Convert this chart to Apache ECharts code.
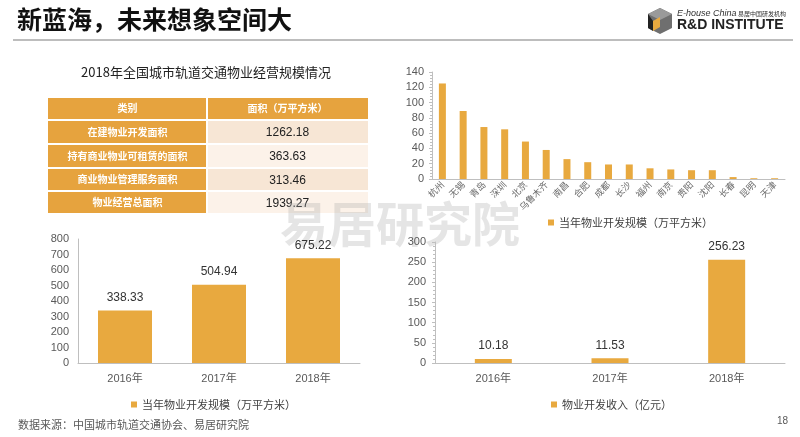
<!DOCTYPE html>
<html>
<head>
<meta charset="utf-8">
<script src="https://cdn.jsdelivr.net/npm/echarts@6/dist/echarts.min.js"></script>
<style>
  html, body { margin: 0; padding: 0; background: #fff; }
  #main { width: 800px; height: 437px; }
</style>
</head>
<body>
<div id="main"></div>
<script>
// city ranking (top right)
const cities = ["杭州", "无锡", "青岛", "深圳", "北京", "乌鲁木齐", "南昌", "合肥", "成都", "长沙", "福州", "南京", "贵阳", "沈阳", "长春", "昆明", "天津"];
const cityScale = [125, 89, 68, 65, 49, 38, 26, 22, 19, 19, 14, 12.5, 11.5, 11.5, 2.5, 1, 1];

// yearly charts (bottom)
const years = ["2016年", "2017年", "2018年"];
const devScale = [338.33, 504.94, 675.22];
const devIncome = [10.18, 11.53, 256.23];

// table (top left)
const tableHead = ["类别", "面积（万平方米）"];
const tableCats = ["在建物业开发面积", "持有商业物业可租赁的面积", "商业物业管理服务面积", "物业经营总面积"];
const tableVals = ["1262.18", "363.63", "313.46", "1939.27"];

const scaleName = "当年物业开发规模（万平方米）";
const incomeName = "物业开发收入（亿元）";

const FONT = "'Liberation Sans','Noto Sans CJK SC',sans-serif";
const CJK = "'Noto Sans CJK SC','Liberation Sans',sans-serif";
const BAR = "#E8A93F";
const CELL = "#E6A33E";
const axisTxt = { color: "#595959", fontFamily: FONT };

// table as graphic elements
const tbl = [];
const tx0 = 48, tx1 = 207, tx2 = 368;
const rowTop = [98, 121, 145, 169, 192];
const rowBot = [119, 143, 167, 190, 213];
const lightCells = ["#F7E6D5", "#FCF2E9", "#F7E6D5", "#FCF2E9"];
tbl.push({ type: "rect", shape: { x: tx0, y: rowTop[0], width: tx1 - tx0 - 1, height: rowBot[0] - rowTop[0] }, style: { fill: CELL } });
tbl.push({ type: "rect", shape: { x: tx1 + 1, y: rowTop[0], width: tx2 - tx1 - 1, height: rowBot[0] - rowTop[0] }, style: { fill: CELL } });
tbl.push({ type: "text", x: (tx0 + tx1) / 2, y: (rowTop[0] + rowBot[0]) / 2, style: { text: tableHead[0], fill: "#fff", font: "bold 10px " + CJK, align: "center", verticalAlign: "middle" } });
tbl.push({ type: "text", x: (tx1 + tx2) / 2, y: (rowTop[0] + rowBot[0]) / 2, style: { text: tableHead[1], fill: "#fff", font: "bold 10px " + CJK, align: "center", verticalAlign: "middle" } });
tableCats.forEach((c, i) => {
  const t = rowTop[i + 1], b = rowBot[i + 1];
  tbl.push({ type: "rect", shape: { x: tx0, y: t, width: tx1 - tx0 - 1, height: b - t }, style: { fill: CELL } });
  tbl.push({ type: "rect", shape: { x: tx1 + 1, y: t, width: tx2 - tx1 - 1, height: b - t }, style: { fill: lightCells[i] } });
  tbl.push({ type: "text", x: (tx0 + tx1) / 2, y: (t + b) / 2, style: { text: c, fill: "#fff", font: "bold 10px " + CJK, align: "center", verticalAlign: "middle" } });
  tbl.push({ type: "text", x: (tx1 + tx2) / 2, y: (t + b) / 2 + 1, style: { text: tableVals[i], fill: "#222", font: "12px " + FONT, align: "center", verticalAlign: "middle" } });
});

const chart = echarts.init(document.getElementById("main"), null, { renderer: "canvas" });
chart.setOption({
  backgroundColor: "#fff",
  animation: false,
  textStyle: { fontFamily: FONT },
  graphic: [
    { type: "text", left: 17, top: 7, z: 10, style: { text: "新蓝海，未来想象空间大", fill: "#111", font: "bold 25px " + CJK } },
    { type: "rect", z: 10, shape: { x: 13, y: 39, width: 780, height: 2 }, style: { fill: "#BDBDBD" } },
    // logo
    { type: "polygon", z: 10, shape: { points: [[660, 8], [672, 14], [672, 28], [660, 34], [648, 28], [648, 14]] }, style: { fill: "#6f6f6f" } },
    { type: "polygon", z: 11, shape: { points: [[660, 8], [672, 14], [660, 20], [648, 14]] }, style: { fill: "#9a9a9a" } },
    { type: "polygon", z: 11, shape: { points: [[653, 21], [660, 17], [660, 27], [653, 31]] }, style: { fill: "#E8A93F" } },
    { type: "polygon", z: 11, shape: { points: [[648, 14], [653, 21], [653, 31], [648, 28]] }, style: { fill: "#222" } },
    { type: "text", z: 10, left: 677, top: 9, style: { text: "E-house China", fill: "#333", font: "italic 9px " + FONT } },
    { type: "text", z: 10, left: 738, top: 11, style: { text: "易居中国研发机构", fill: "#333", font: "6px " + CJK } },
    { type: "text", z: 10, left: 677, top: 18, style: { text: "R&D INSTITUTE", fill: "#222", font: "bold 14px " + FONT } },
    // table title
    { type: "text", z: 10, x: 206, y: 72, style: { text: "2018年全国城市轨道交通物业经营规模情况", fill: "#222", font: "13px " + CJK, align: "center", verticalAlign: "middle" } },
    ...tbl,
    // watermark
    { type: "text", z: 0, x: 400, y: 224, style: { text: "易居研究院", fill: "rgba(170,170,170,0.3)", font: "bold 48px 'Noto Sans CJK SC'", align: "center", verticalAlign: "middle" } },
    // source + page
    { type: "text", z: 10, left: 18, top: 419, style: { text: "数据来源：中国城市轨道交通协会、易居研究院", fill: "#595959", font: "11px " + CJK } },
    { type: "text", z: 10, left: 777, top: 416, style: { text: "18", fill: "#595959", font: "10px " + FONT } }
  ],
  legend: [
    { data: [scaleName], left: 543, top: 212, icon: "rect", itemWidth: 6, itemHeight: 6, itemGap: 4, textStyle: { color: "#404040", fontSize: 11, fontFamily: CJK } },
    { data: [scaleName], left: 126, top: 394, icon: "rect", itemWidth: 6, itemHeight: 6, itemGap: 4, textStyle: { color: "#404040", fontSize: 11, fontFamily: CJK } },
    { data: [incomeName], left: 546, top: 394, icon: "rect", itemWidth: 6, itemHeight: 6, itemGap: 4, textStyle: { color: "#404040", fontSize: 11, fontFamily: CJK } }
  ],
  grid: [
    { left: 432, top: 72, width: 353, height: 107 },
    { left: 78, top: 239, width: 282, height: 124 },
    { left: 435, top: 242, width: 350, height: 121 }
  ],
  xAxis: [
    { gridIndex: 0, type: "category", data: cities, axisTick: { show: false }, axisLine: { lineStyle: { color: "#BFBFBF" } },
      axisLabel: { ...axisTxt, color: "#6a6a6a", fontFamily: CJK, fontSize: 9, rotate: 45, interval: 0, margin: 4 } },
    { gridIndex: 1, type: "category", data: years, axisTick: { show: false }, axisLine: { lineStyle: { color: "#BFBFBF" } },
      axisLabel: { ...axisTxt, fontSize: 11, margin: 10 } },
    { gridIndex: 2, type: "category", data: years, axisTick: { show: false }, axisLine: { lineStyle: { color: "#BFBFBF" } },
      axisLabel: { ...axisTxt, fontSize: 11, margin: 10 } }
  ],
  yAxis: [
    { gridIndex: 0, type: "value", min: 0, max: 140, interval: 20, splitLine: { show: false },
      axisLine: { show: true, lineStyle: { color: "#BFBFBF" } }, axisTick: { show: true, length: 3, lineStyle: { color: "#BFBFBF" } },
      minorTick: { show: true, splitNumber: 5, length: 2, lineStyle: { color: "#BFBFBF" } },
      axisLabel: { ...axisTxt, fontSize: 11, margin: 8 } },
    { gridIndex: 1, type: "value", min: 0, max: 800, interval: 100, splitLine: { show: false },
      axisLine: { show: true, lineStyle: { color: "#BFBFBF" } }, axisTick: { show: false },
      axisLabel: { ...axisTxt, fontSize: 11, margin: 9 } },
    { gridIndex: 2, type: "value", min: 0, max: 300, interval: 50, splitLine: { show: false },
      axisLine: { show: true, lineStyle: { color: "#BFBFBF" } }, axisTick: { show: true, length: 3, lineStyle: { color: "#BFBFBF" } },
      minorTick: { show: true, splitNumber: 5, length: 2, lineStyle: { color: "#BFBFBF" } },
      axisLabel: { ...axisTxt, fontSize: 11, margin: 9 } }
  ],
  series: [
    { name: scaleName, type: "bar", xAxisIndex: 0, yAxisIndex: 0, data: cityScale, barWidth: 7, itemStyle: { color: BAR } },
    { name: scaleName, type: "bar", xAxisIndex: 1, yAxisIndex: 1, data: devScale, barWidth: 54, itemStyle: { color: BAR },
      label: { show: true, position: "top", distance: 7, color: "#333", fontSize: 12, fontFamily: FONT } },
    { name: incomeName, type: "bar", xAxisIndex: 2, yAxisIndex: 2, data: devIncome, barWidth: 37, itemStyle: { color: BAR },
      label: { show: true, position: "top", distance: 7, color: "#333", fontSize: 12, fontFamily: FONT } }
  ]
});
</script>
</body>
</html>
